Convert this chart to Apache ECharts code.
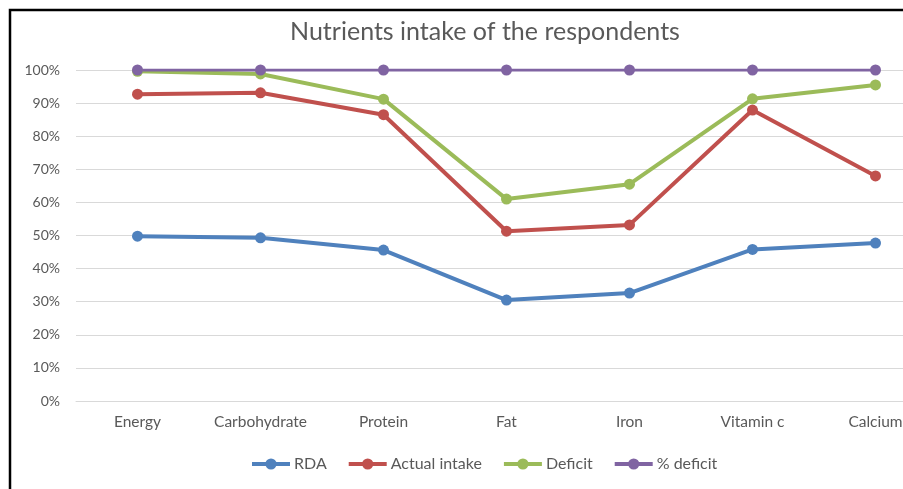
<!DOCTYPE html>
<html>
<head>
<meta charset="utf-8">
<script src="https://cdn.jsdelivr.net/npm/echarts@6/dist/echarts.min.js"></script>
<style>
  html, body { margin: 0; padding: 0; background: #ffffff; }
  #chart { width: 903px; height: 489px; }
</style>
</head>
<body>
<div id="chart"></div>
<script>
// Nutrient categories along the x axis
const categories = ['Energy', 'Carbohydrate', 'Protein', 'Fat', 'Iron', 'Vitamin c', 'Calcium'];

// Plotted shares (percent, cumulative as in a 100% stacked line chart)
const rda = [49.8, 49.3, 45.6, 30.5, 32.6, 45.8, 47.7];
const actualIntake = [92.7, 93.1, 86.5, 51.3, 53.2, 87.9, 68.0];
const deficit = [99.6, 98.8, 91.2, 61.0, 65.5, 91.3, 95.5];
const pctDeficit = [100, 100, 100, 100, 100, 100, 100];

// Y axis tick values
const yTicks = [0, 10, 20, 30, 40, 50, 60, 70, 80, 90, 100];

const FONT = 'Lato, "Open Sans", sans-serif';
const TEXT = '#595959';

function lineSeries(name, data, color, width) {
  return {
    name: name,
    type: 'line',
    data: data,
    symbol: 'circle',
    symbolSize: 11,
    itemStyle: { color: color },
    lineStyle: { color: color, width: width },
    emphasis: { disabled: true }
  };
}

const chart = echarts.init(document.getElementById('chart'), null, { renderer: 'canvas' });
chart.setOption({
  animation: false,
  backgroundColor: '#ffffff',
  title: {
    text: 'Nutrients intake of the respondents',
    left: 480,
    top: 14,
    textAlign: 'center',
    textStyle: { fontFamily: FONT, fontSize: 25, fontWeight: 'normal', color: TEXT }
  },
  legend: {
    left: 250,
    top: 456,
    width: 620,
    padding: 0,
    itemWidth: 38,
    itemHeight: 14,
    itemGap: 20,
    lineStyle: { width: 4 },
    textStyle: { fontFamily: FONT, fontSize: 16, color: TEXT, padding: [0, 0, 0, -1] },
    data: ['RDA', 'Actual intake', 'Deficit', '% deficit']
  },
  grid: {
    left: 76,
    top: 70,
    width: 861,
    height: 331,
    containLabel: false,
    outerBoundsMode: 'none'
  },
  xAxis: {
    type: 'category',
    data: categories,
    boundaryGap: true,
    axisLine: { show: true, lineStyle: { color: '#d9d9d9', width: 1 } },
    axisTick: { show: false },
    axisLabel: { fontFamily: FONT, fontSize: 15.5, color: TEXT, margin: 13 }
  },
  yAxis: {
    type: 'value',
    min: yTicks[0],
    max: yTicks[yTicks.length - 1],
    interval: 10,
    axisLine: { show: false },
    axisTick: { show: false },
    splitLine: { lineStyle: { color: '#d9d9d9', width: 1 } },
    axisLabel: {
      fontFamily: FONT, fontSize: 14, color: TEXT, margin: 16,
      formatter: v => v + '%'
    }
  },
  series: [
    lineSeries('RDA', rda, '#4f81bd', 4),
    lineSeries('Actual intake', actualIntake, '#c0504d', 4),
    lineSeries('Deficit', deficit, '#9bbb59', 4),
    lineSeries('% deficit', pctDeficit, '#8064a2', 3)
  ],
  graphic: [
    {
      type: 'polyline',
      shape: { points: [[10, 489], [10, 10], [903, 10]] },
      style: { stroke: '#000000', lineWidth: 2.5, fill: null },
      silent: true
    }
  ]
});
</script>
</body>
</html>
